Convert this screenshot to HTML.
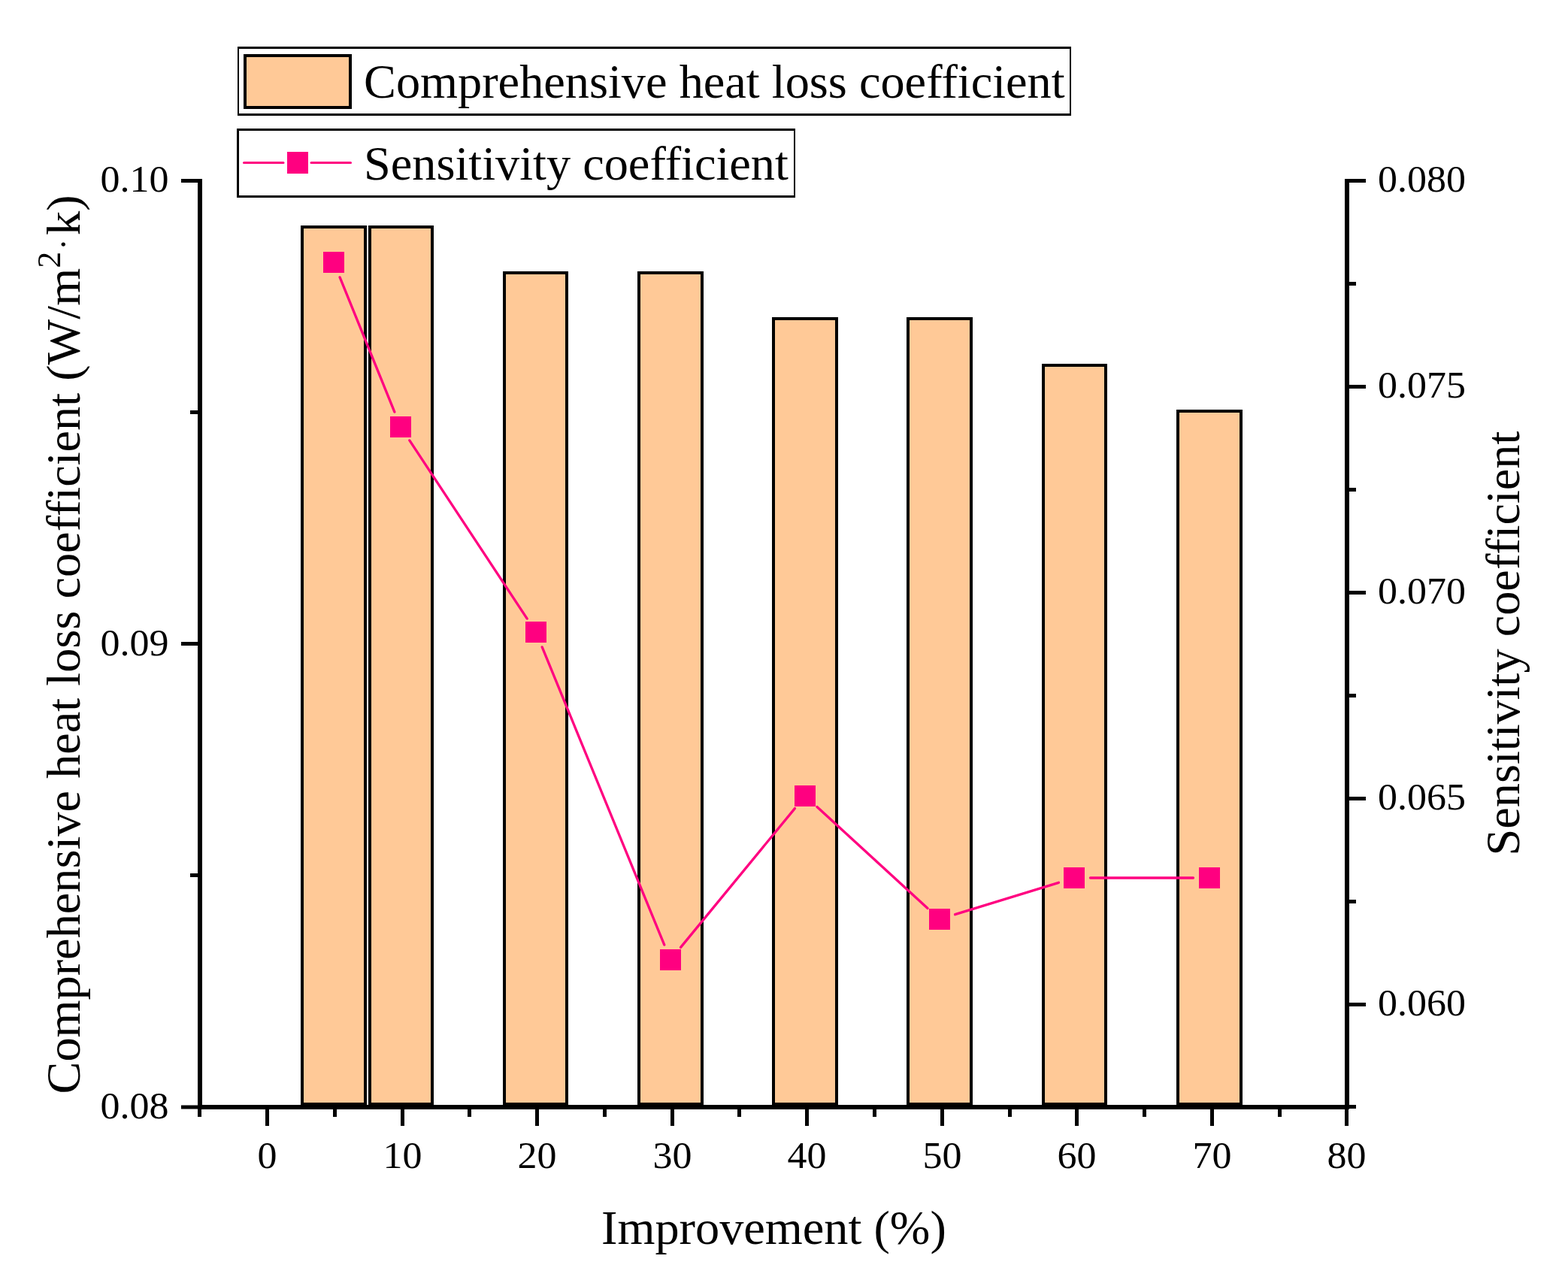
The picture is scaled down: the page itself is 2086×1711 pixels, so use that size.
<!DOCTYPE html>
<html><head><meta charset="utf-8"><title>Chart</title>
<style>
html,body{margin:0;padding:0;background:#fff;}
svg{display:block;}
text{font-family:'Liberation Serif', 'Times New Roman', serif;fill:#000;}
</style></head><body>
<svg width="2086" height="1711" viewBox="0 0 2086 1711">
<rect x="0" y="0" width="2086" height="1711" fill="#fff"/>

<rect x="402.0" y="302.0" width="84" height="1167.0" fill="#FFC997" stroke="#000" stroke-width="4"/>
<rect x="492.0" y="302.0" width="83" height="1167.0" fill="#FFC997" stroke="#000" stroke-width="4"/>
<rect x="671.0" y="363.0" width="83" height="1106.0" fill="#FFC997" stroke="#000" stroke-width="4"/>
<rect x="850.0" y="363.0" width="84" height="1106.0" fill="#FFC997" stroke="#000" stroke-width="4"/>
<rect x="1029.0" y="424.0" width="84" height="1045.0" fill="#FFC997" stroke="#000" stroke-width="4"/>
<rect x="1208.0" y="424.0" width="84" height="1045.0" fill="#FFC997" stroke="#000" stroke-width="4"/>
<rect x="1388.0" y="486.0" width="83" height="983.0" fill="#FFC997" stroke="#000" stroke-width="4"/>
<rect x="1567.0" y="547.0" width="84" height="922.0" fill="#FFC997" stroke="#000" stroke-width="4"/>
<g stroke="#000" stroke-width="6" fill="none">
<line x1="266" y1="238" x2="266" y2="1476"/>
<line x1="1792" y1="238" x2="1792" y2="1476"/>
<line x1="263" y1="1473" x2="1795" y2="1473"/>
</g>
<g stroke="#000" stroke-width="5" fill="none">
<line x1="241" y1="240.5" x2="266" y2="240.5"/>
<line x1="241" y1="856.5" x2="266" y2="856.5"/>
<line x1="241" y1="1473" x2="266" y2="1473"/>
<line x1="253" y1="548.5" x2="266" y2="548.5"/>
<line x1="253" y1="1164.5" x2="266" y2="1164.5"/>
<line x1="1792" y1="240.5" x2="1817" y2="240.5"/>
<line x1="1792" y1="514.5" x2="1817" y2="514.5"/>
<line x1="1792" y1="788.5" x2="1817" y2="788.5"/>
<line x1="1792" y1="1062.5" x2="1817" y2="1062.5"/>
<line x1="1792" y1="1336.5" x2="1817" y2="1336.5"/>
<line x1="1792" y1="377.5" x2="1804" y2="377.5"/>
<line x1="1792" y1="651.5" x2="1804" y2="651.5"/>
<line x1="1792" y1="925.5" x2="1804" y2="925.5"/>
<line x1="1792" y1="1199.5" x2="1804" y2="1199.5"/>
<line x1="1792" y1="1472.5" x2="1804" y2="1472.5"/>
<line x1="355.5" y1="1473" x2="355.5" y2="1498"/>
<line x1="535.5" y1="1473" x2="535.5" y2="1498"/>
<line x1="714.5" y1="1473" x2="714.5" y2="1498"/>
<line x1="894.5" y1="1473" x2="894.5" y2="1498"/>
<line x1="1073.5" y1="1473" x2="1073.5" y2="1498"/>
<line x1="1253.5" y1="1473" x2="1253.5" y2="1498"/>
<line x1="1432.5" y1="1473" x2="1432.5" y2="1498"/>
<line x1="1612.5" y1="1473" x2="1612.5" y2="1498"/>
<line x1="1791.5" y1="1473" x2="1791.5" y2="1498"/>
<line x1="265.5" y1="1473" x2="265.5" y2="1486"/>
<line x1="445.5" y1="1473" x2="445.5" y2="1486"/>
<line x1="624.5" y1="1473" x2="624.5" y2="1486"/>
<line x1="804.5" y1="1473" x2="804.5" y2="1486"/>
<line x1="983.5" y1="1473" x2="983.5" y2="1486"/>
<line x1="1163.5" y1="1473" x2="1163.5" y2="1486"/>
<line x1="1343.5" y1="1473" x2="1343.5" y2="1486"/>
<line x1="1522.5" y1="1473" x2="1522.5" y2="1486"/>
<line x1="1702.5" y1="1473" x2="1702.5" y2="1486"/>
</g>
<text transform="translate(224.5,255.1) scale(1,0.97)" font-size="52" text-anchor="end">0.10</text>
<text transform="translate(224.5,871.5) scale(1,0.97)" font-size="52" text-anchor="end">0.09</text>
<text transform="translate(224.5,1487.6) scale(1,0.97)" font-size="52" text-anchor="end">0.08</text>
<text transform="translate(1833,255.2) scale(1,0.97)" font-size="52">0.080</text>
<text transform="translate(1833,529.1) scale(1,0.97)" font-size="52">0.075</text>
<text transform="translate(1833,802.9) scale(1,0.97)" font-size="52">0.070</text>
<text transform="translate(1833,1076.8) scale(1,0.97)" font-size="52">0.065</text>
<text transform="translate(1833,1350.6) scale(1,0.97)" font-size="52">0.060</text>
<text transform="translate(355.5,1553.6) scale(1,0.97)" font-size="52" text-anchor="middle">0</text>
<text transform="translate(535.5,1553.6) scale(1,0.97)" font-size="52" text-anchor="middle">10</text>
<text transform="translate(714.5,1553.6) scale(1,0.97)" font-size="52" text-anchor="middle">20</text>
<text transform="translate(894.5,1553.6) scale(1,0.97)" font-size="52" text-anchor="middle">30</text>
<text transform="translate(1073.5,1553.6) scale(1,0.97)" font-size="52" text-anchor="middle">40</text>
<text transform="translate(1253.5,1553.6) scale(1,0.97)" font-size="52" text-anchor="middle">50</text>
<text transform="translate(1432.5,1553.6) scale(1,0.97)" font-size="52" text-anchor="middle">60</text>
<text transform="translate(1612.5,1553.6) scale(1,0.97)" font-size="52" text-anchor="middle">70</text>
<text transform="translate(1791.5,1553.6) scale(1,0.97)" font-size="52" text-anchor="middle">80</text>
<g stroke="#FF0080" stroke-width="3.3" stroke-linecap="round" fill="none">
<line x1="452.1" y1="368.9" x2="524.9" y2="548.1"/>
<line x1="544.8" y1="585.9" x2="701.2" y2="823.1"/>
<line x1="721.2" y1="860.9" x2="883.8" y2="1257.1"/>
<line x1="905.6" y1="1260.4" x2="1057.4" y2="1075.6"/>
<line x1="1086.9" y1="1073.5" x2="1234.1" y2="1208.5"/>
<line x1="1270.6" y1="1216.7" x2="1408.4" y2="1174.3"/>
<line x1="1450.5" y1="1168.0" x2="1587.5" y2="1168.0"/>
</g>
<rect x="430" y="335" width="28" height="28" fill="#FF0080"/>
<rect x="519" y="554" width="28" height="28" fill="#FF0080"/>
<rect x="699" y="827" width="28" height="28" fill="#FF0080"/>
<rect x="878" y="1263" width="28" height="28" fill="#FF0080"/>
<rect x="1057" y="1045" width="28" height="28" fill="#FF0080"/>
<rect x="1236" y="1209" width="28" height="28" fill="#FF0080"/>
<rect x="1415" y="1154" width="28" height="28" fill="#FF0080"/>
<rect x="1595" y="1154" width="28" height="28" fill="#FF0080"/>
<rect x="316" y="62" width="1109" height="92" fill="#fff"/>
<rect x="316" y="62" width="1109" height="3" fill="#000"/>
<rect x="316" y="151" width="1109" height="3" fill="#000"/>
<rect x="316" y="62" width="2" height="92" fill="#000"/>
<rect x="1423" y="62" width="2" height="92" fill="#000"/>
<rect x="324" y="72" width="144" height="73" fill="#FFC997"/>
<rect x="324" y="72" width="144" height="4" fill="#000"/>
<rect x="324" y="141" width="144" height="4" fill="#000"/>
<rect x="324" y="72" width="4" height="73" fill="#000"/>
<rect x="464" y="72" width="4" height="73" fill="#000"/>
<text x="484" y="130" font-size="64.3">Comprehensive heat loss coefficient</text>
<rect x="315" y="171" width="743" height="92" fill="#fff"/>
<rect x="315" y="171" width="743" height="3" fill="#000"/>
<rect x="315" y="260" width="743" height="3" fill="#000"/>
<rect x="315" y="171" width="3" height="92" fill="#000"/>
<rect x="1056" y="171" width="2" height="92" fill="#000"/>
<g stroke="#FF0080" stroke-width="3" stroke-linecap="round"><line x1="324.5" y1="216.5" x2="377" y2="216.5"/><line x1="414" y1="216.5" x2="466.5" y2="216.5"/></g>
<rect x="382" y="202" width="28" height="29" fill="#FF0080"/>
<text x="484" y="239" font-size="64.3">Sensitivity coefficient</text>
<text transform="translate(105.7,1455.5) rotate(-90)" font-size="64.3">Comprehensive heat loss coefficient (W/m<tspan font-size="44" dy="-26">2</tspan><tspan font-size="46" dy="20" dx="2.2">·</tspan><tspan dy="6" dx="4.3">k)</tspan></text>
<text transform="translate(2021,1138.5) rotate(-90)" font-size="64.3">Sensitivity coefficient</text>
<text x="800" y="1654.5" font-size="64.3">Improvement (%)</text>
</svg>
</body></html>
